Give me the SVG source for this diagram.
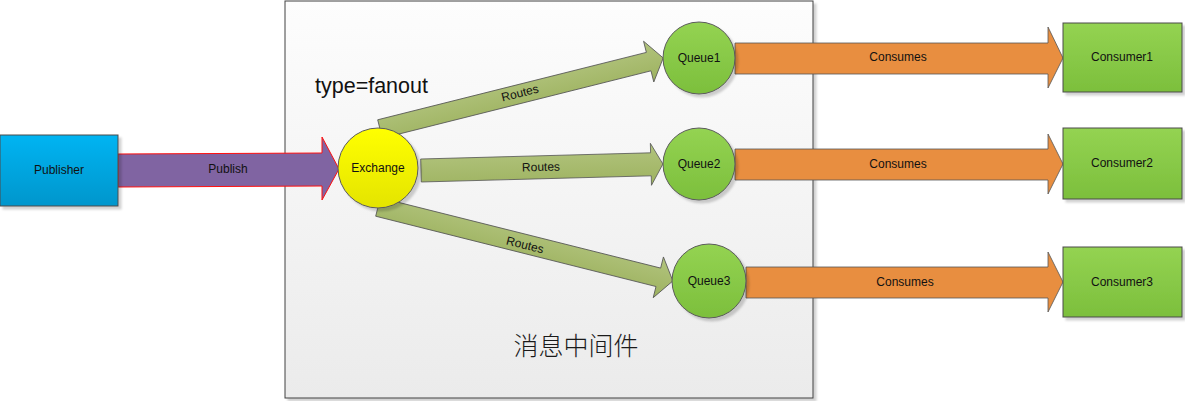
<svg xmlns="http://www.w3.org/2000/svg" width="1185" height="401" viewBox="0 0 1185 401">
<defs>
<linearGradient id="gBox" x1="0" y1="0" x2="0" y2="1"><stop offset="0" stop-color="#fdfdfd"/><stop offset="1" stop-color="#ebebeb"/></linearGradient>
<linearGradient id="gBlue" x1="0" y1="0" x2="0" y2="1"><stop offset="0" stop-color="#00b4f2"/><stop offset="1" stop-color="#0096cc"/></linearGradient>
<linearGradient id="gGreen" x1="0" y1="0" x2="0" y2="1"><stop offset="0" stop-color="#94d352"/><stop offset="1" stop-color="#7cbf3c"/></linearGradient>
<linearGradient id="gYellow" x1="0" y1="0" x2="0" y2="1"><stop offset="0" stop-color="#ffff00"/><stop offset="1" stop-color="#e4e400"/></linearGradient>
<linearGradient id="gOlive" x1="0" y1="0" x2="0" y2="1"><stop offset="0" stop-color="#b2c47e"/><stop offset="1" stop-color="#9db25f"/></linearGradient>
<filter id="sh" x="-10%" y="-10%" width="130%" height="130%"><feDropShadow dx="3" dy="3" stdDeviation="1" flood-color="#000" flood-opacity="0.18"/></filter>
</defs>
<style>
.t{font-family:"Liberation Sans",Arial,sans-serif;font-size:12px;fill:#111;text-anchor:middle;dominant-baseline:central}
.node{stroke:#4a4a4a;stroke-width:1}
.circ{stroke:#5a5a5a;stroke-width:1}
.route{fill:url(#gOlive);stroke:#555;stroke-width:0.8}
.cons{fill:#e88e40;stroke:#555;stroke-width:0.8}
</style>
<rect width="1185" height="401" fill="#fff"/>

<g id="middleware">
<rect x="285" y="1" width="528" height="397" fill="url(#gBox)" stroke="#404040" stroke-width="1" filter="url(#sh)"/>
<text x="315" y="93" style="font-family:'Liberation Sans',Arial,sans-serif;font-size:21.5px;fill:#111">type=fanout</text>
<text x="576" y="355" style="font-family:'Noto Sans CJK SC','Noto Sans',sans-serif;font-size:25px;font-weight:300;fill:#1a1a1a;text-anchor:middle">消息中间件</text>
</g>

<g id="connectors">
<g id="publish">
<polygon points="118,154 322,153 322,137 339,169 322,200 322,186 118,187" fill="#8064a2" stroke="#ff1010" stroke-width="1"/>
<text class="t" x="228" y="169">Publish</text>
</g>
<g id="route1">
<polygon class="route" transform="translate(380,129) rotate(-14.08)" points="0,-9.5 277,-9.5 277,-21 292,0 277,21 277,9.5 0,9.5"/>
<text class="t" transform="translate(520,93) rotate(-14.08)">Routes</text>
</g>
<g id="route2">
<polygon class="route" transform="translate(421,170.5) rotate(-1.54)" points="0,-11.5 230,-11.5 230,-21 242,0 230,21 230,11.5 0,11.5"/>
<text class="t" transform="translate(541,167) rotate(-1.54)">Routes</text>
</g>
<g id="route3">
<polygon class="route" transform="translate(378,207) rotate(14.08)" points="0,-9.5 289,-9.5 289,-21 304,0 289,21 289,9.5 0,9.5"/>
<text class="t" transform="translate(525,245) rotate(14.08)">Routes</text>
</g>
<g id="consume1">
<polygon class="cons" points="735,43 1048,43 1048,27 1063,58 1048,88 1048,74 735,74"/>
<text class="t" x="898" y="57">Consumes</text>
</g>
<g id="consume2">
<polygon class="cons" points="735,149 1048,149 1048,134 1063,164 1048,194 1048,180 735,180"/>
<text class="t" x="898" y="164">Consumes</text>
</g>
<g id="consume3">
<polygon class="cons" points="746,267 1048,267 1048,252 1063,282 1048,312 1048,298 746,298"/>
<text class="t" x="905" y="282">Consumes</text>
</g>
</g>

<g id="publisher">
<rect class="node" x="0" y="135" width="118" height="71" fill="url(#gBlue)" filter="url(#sh)"/>
<text class="t" x="59" y="170">Publisher</text>
</g>
<g id="exchange">
<circle class="circ" cx="378" cy="168" r="40" fill="url(#gYellow)" filter="url(#sh)"/>
<text class="t" x="378" y="168">Exchange</text>
</g>
<g id="queue1">
<circle class="circ" cx="699" cy="58" r="36" fill="url(#gGreen)" filter="url(#sh)"/>
<text class="t" x="699" y="58">Queue1</text>
</g>
<g id="queue2">
<circle class="circ" cx="699" cy="164" r="36" fill="url(#gGreen)" filter="url(#sh)"/>
<text class="t" x="699" y="164">Queue2</text>
</g>
<g id="queue3">
<circle class="circ" cx="709" cy="281" r="37" fill="url(#gGreen)" filter="url(#sh)"/>
<text class="t" x="709" y="281">Queue3</text>
</g>
<g id="consumer1">
<rect class="node" x="1063" y="23" width="119" height="69" fill="url(#gGreen)" filter="url(#sh)"/>
<text class="t" x="1122" y="57">Consumer1</text>
</g>
<g id="consumer2">
<rect class="node" x="1063" y="128" width="119" height="71" fill="url(#gGreen)" filter="url(#sh)"/>
<text class="t" x="1122" y="163">Consumer2</text>
</g>
<g id="consumer3">
<rect class="node" x="1063" y="247" width="119" height="70" fill="url(#gGreen)" filter="url(#sh)"/>
<text class="t" x="1122" y="282">Consumer3</text>
</g>
</svg>
